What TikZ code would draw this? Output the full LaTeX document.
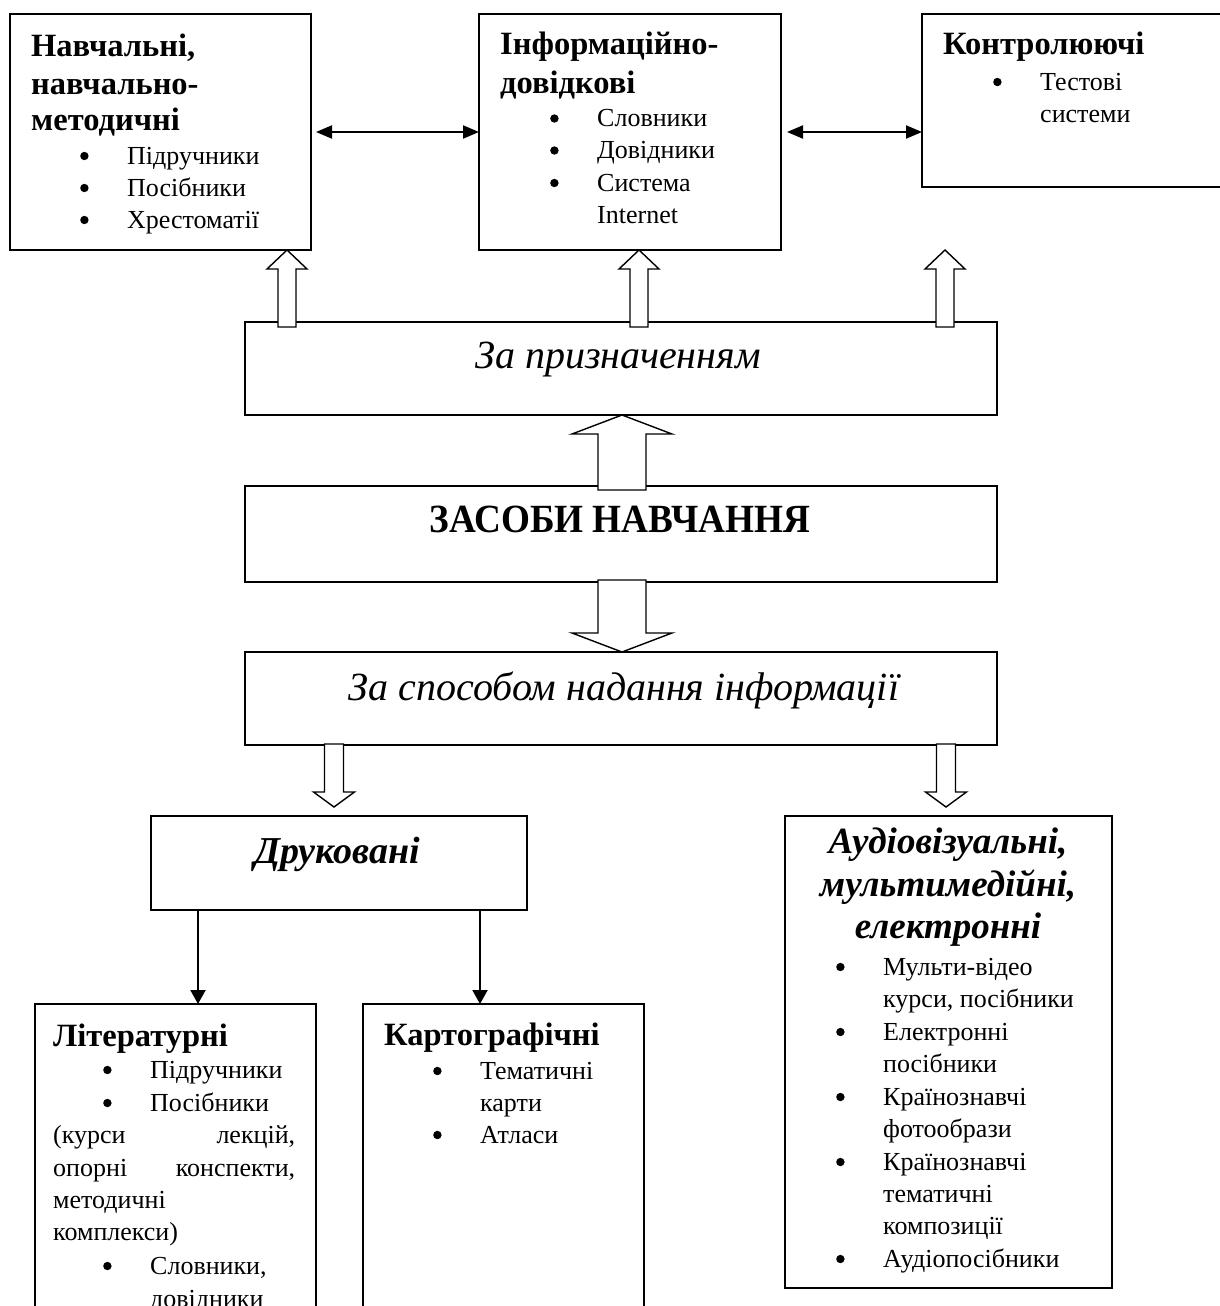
\documentclass[tikz,border=0pt]{standalone}
\usepackage{fontspec}
\setmainfont{Liberation Serif}
\usetikzlibrary{arrows.meta,calc}
\newcommand\blt{\makebox[47pt][l]{\tikz[baseline=0pt]\fill[black] (4.2pt,8pt) circle[radius=4.2pt];}}
\newcommand\hollowarrow[5]{%
  \draw[hol] (#1) -- ($(#1)+(#4,#5)$) -- ($(#1)+(#3,#5)$) -- ($(#2)+(#3,0)$)
    -- ($(#2)+(-#3,0)$) -- ($(#1)+(-#3,#5)$) -- ($(#1)+(-#4,#5)$) -- cycle;}
\begin{document}
\begin{tikzpicture}[x=1pt,y=-1pt,
  box/.style={draw, line width=1.6pt, inner sep=0pt, outer sep=0pt},
  hd/.style={anchor=base west, inner sep=0pt, font=\fontsize{32.5}{36}\selectfont\bfseries},
  tx/.style={anchor=base west, inner sep=0pt, font=\fontsize{26}{30}\selectfont},
  ah/.style={anchor=base, inner sep=0pt, font=\fontsize{37}{42}\selectfont\bfseries\itshape},
  bigit/.style={anchor=base, inner sep=0pt, font=\fontsize{40}{46}\selectfont\itshape},
  hol/.style={draw, fill=white, line width=1.4pt, line join=miter},
  darr/.style={line width=2pt, -{Triangle[length=14pt,width=15pt]}},
  dbl/.style={line width=2pt, {Triangle[length=16pt,width=13pt]}-{Triangle[length=16pt,width=13pt]}}]
\useasboundingbox (0,0) rectangle (1220,1306);
\clip (0,0) rectangle (1220,1306);

% boxes
\node[box, minimum width=301pt, minimum height=236pt] (b1) at (160.5,132) {};
\node[box, minimum width=302pt, minimum height=236pt] (b2) at (630,132) {};
\node[box, minimum width=318pt, minimum height=173pt] (b3) at (1081,100.5) {};
\node[box, minimum width=752pt, minimum height=93pt] (pr) at (621,368.5) {};
\node[box, minimum width=752pt, minimum height=96pt] (zn) at (621,534) {};
\node[box, minimum width=752pt, minimum height=93pt] (sp) at (621,698.5) {};
\node[box, minimum width=376pt, minimum height=94pt] (dr) at (339,863) {};
\node[box, minimum width=327pt, minimum height=472pt] (au) at (948.5,1052) {};
\node[box, minimum width=281pt, minimum height=346pt] (lit) at (175.5,1177) {};
\node[box, minimum width=281pt, minimum height=346pt] (kart) at (503.5,1177) {};

% texts box 1
\node[hd] (b1h1) at (31,57) {Навчальні,};
\node[hd] (b1h2) at (31,94) {навчально-};
\node[hd] (b1h3) at (31,130) {методичні};
\node[tx] (b1t1) at (80,164) {\blt Підручники};
\node[tx] (b1t2) at (80,196) {\blt Посібники};
\node[tx] (b1t3) at (80,228) {\blt Хрестоматії};
% box 2
\node[hd] (b2h1) at (500,55) {Інформаційно-};
\node[hd] (b2h2) at (500,93) {довідкові};
\node[tx] (b2t1) at (550,126.5) {\blt Словники};
\node[tx] (b2t2) at (550,158.5) {\blt Довідники};
\node[tx] (b2t3) at (550,191) {\blt Система};
\node[tx] (b2t4) at (597,223) {Internet};
% box 3
\node[hd] (b3h1) at (943,55) {Контролюючі};
\node[tx] (b3t1) at (993,90) {\blt Тестові};
\node[tx] (b3t2) at (1040,122) {системи};
% middle
\node[bigit] (prt) at (618,368) {За призначенням};
\node[anchor=base, inner sep=0pt, font=\fontsize{40}{46}\selectfont\bfseries] (znt) at (620,532) {\scalebox{0.93}[1]{ЗАСОБИ НАВЧАННЯ}};
\node[bigit] (spt) at (624,700) {За способом надання інформації};
\node[anchor=base, inner sep=0pt, font=\fontsize{38}{44}\selectfont\bfseries\itshape] (drt) at (337,863) {Друковані};
% audio
\node[ah] (auh1) at (948,853) {Аудіовізуальні,};
\node[ah] (auh2) at (948,896.5) {мультимедійні,};
\node[ah] (auh3) at (948,938) {електронні};
\node[tx] (aut1) at (836,975) {\blt Мульти-відео};
\node[tx] (aut2) at (883,1007) {курси, посібники};
\node[tx] (aut3) at (836,1040) {\blt Електронні};
\node[tx] (aut4) at (883,1072) {посібники};
\node[tx] (aut5) at (836,1105) {\blt Країнознавчі};
\node[tx] (aut6) at (883,1137) {фотообрази};
\node[tx] (aut7) at (836,1170) {\blt Країнознавчі};
\node[tx] (aut8) at (883,1202) {тематичні};
\node[tx] (aut9) at (883,1234) {композиції};
\node[tx] (aut10) at (836,1267) {\blt Аудіопосібники};
% literaturni
\node[hd] (lith) at (53,1046) {Літературні};
\node[tx] (litt1) at (103,1078) {\blt Підручники};
\node[tx] (litt2) at (103,1111) {\blt Посібники};
\node[tx] (litt3) at (53,1143) {\makebox[242pt][s]{(курси лекцій,}};
\node[tx] (litt4) at (53,1176) {\makebox[242pt][s]{опорні конспекти,}};
\node[tx] (litt5) at (53,1208) {методичні};
\node[tx] (litt6) at (53,1240) {комплекси)};
\node[tx] (litt7) at (103,1274) {\blt Словники,};
\node[tx] (litt8) at (150,1307) {довідники};
% kartohrafichni
\node[hd] (kh) at (384,1045) {Картографічні};
\node[tx] (kt1) at (433,1079) {\blt Тематичні};
\node[tx] (kt2) at (480,1111) {карти};
\node[tx] (kt3) at (433,1143) {\blt Атласи};

% arrow columns
\coordinate (a1) at (287,0);
\coordinate (a2) at (639,0);
\coordinate (a3) at (945,0);
\coordinate (a4) at (622,0);
\coordinate (a5) at (334,0);
\coordinate (a6) at (946,0);
\coordinate (a7) at (198,0);
\coordinate (a8) at (480,0);

\coordinate (u1) at (b1.south -| a1);
\coordinate (u2) at (b2.south -| a2);
\coordinate (u3) at (b2.south -| a3);
\coordinate (v1) at ($(pr.north -| a1)+(0,5)$);
\coordinate (v2) at ($(pr.north -| a2)+(0,5)$);
\coordinate (v3) at ($(pr.north -| a3)+(0,5)$);
\hollowarrow{u1}{v1}{9}{20}{19}
\hollowarrow{u2}{v2}{9}{20}{19}
\hollowarrow{u3}{v3}{9}{20}{19}

\coordinate (u4) at (pr.south -| a4);
\coordinate (v4) at ($(zn.north -| a4)+(0,4)$);
\hollowarrow{u4}{v4}{24}{50}{19}

\coordinate (u5) at (sp.north -| a4);
\coordinate (v5) at ($(zn.south -| a4)+(0,-2)$);
\hollowarrow{u5}{v5}{24}{50}{-19}

\coordinate (u6) at ($(dr.north -| a5)+(0,-9)$);
\coordinate (v6) at ($(sp.south -| a5)+(0,-1)$);
\hollowarrow{u6}{v6}{9.5}{20.5}{-15}
\coordinate (u7) at ($(au.north -| a6)+(0,-9)$);
\coordinate (v7) at ($(sp.south -| a6)+(0,-1)$);
\hollowarrow{u7}{v7}{9.5}{20.5}{-15}

% thin arrows
\draw[darr] (dr.south -| a7) -- (lit.north -| a7);
\draw[darr] (dr.south -| a8) -- (kart.north -| a8);

% double arrows
\draw[dbl, shorten <=5pt] (b1.east) -- (b2.west);
\draw[dbl, shorten <=6pt] (b2.east) -- (b2.east -| b3.west);
\end{tikzpicture}
\end{document}
